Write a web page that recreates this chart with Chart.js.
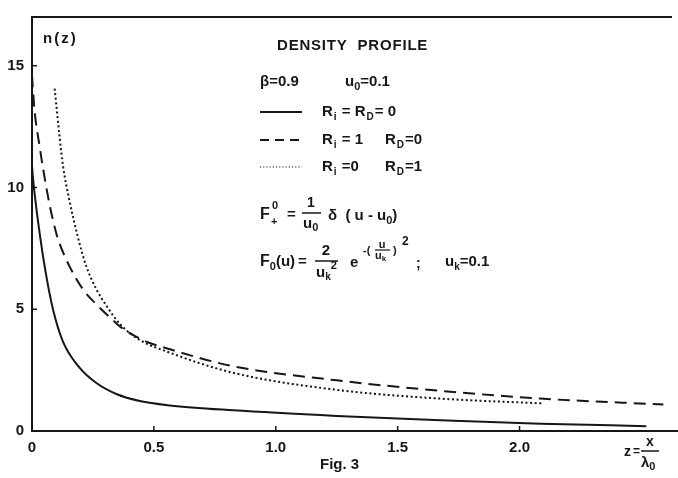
<!DOCTYPE html>
<html>
<head>
<meta charset="utf-8">
<script src="https://cdn.jsdelivr.net/npm/chart.js@4.4.1/dist/chart.umd.min.js"></script>
<style>
  body { margin: 0; background: #fff; }
  #density_chart { display: block; }
</style>
</head>
<body>
<canvas id="density_chart" width="678" height="478"></canvas>
<script>
// -- DATA -- //
// solid: Ri = RD = 0
const solid_z = [0, 0.003, 0.031, 0.058, 0.086, 0.127, 0.195, 0.264, 0.346, 0.442, 0.565, 0.825, 1.25, 1.675, 2.086, 2.52];
const solid_n = [10.9, 10.5, 8.15, 6.4, 5.0, 3.67, 2.6, 1.97, 1.52, 1.23, 1.05, 0.85, 0.62, 0.44, 0.3, 0.2];

// dashed: Ri = 1, RD = 0
const dashed_z = [0, 0.01, 0.031, 0.045, 0.072, 0.1, 0.113, 0.154, 0.209, 0.264, 0.318, 0.373, 0.469, 0.551, 0.825, 1.25, 1.675, 2.086, 2.59];
const dashed_n = [14.6, 13.2, 11.7, 10.8, 9.3, 8.1, 7.7, 6.76, 5.82, 5.2, 4.68, 4.2, 3.67, 3.4, 2.66, 2.08, 1.65, 1.33, 1.09];

// dotted: Ri = 0, RD = 1
const dotted_z = [0.093, 0.113, 0.127, 0.154, 0.188, 0.223, 0.264, 0.305, 0.36, 0.442, 0.551, 0.825, 1.25, 1.675, 2.1];
const dotted_n = [14.06, 12.1, 10.9, 9.45, 7.97, 6.76, 5.82, 5.15, 4.4, 3.74, 3.27, 2.39, 1.69, 1.33, 1.13];

const y_ticks = [0, 5, 10, 15];
const y_tick_labels = ['0', '5', '10', '15'];
const x_ticks = [0, 0.5, 1.0, 1.5, 2.0];
const x_tick_labels = ['0', '0.5', '1.0', '1.5', '2.0'];

const FONT = "'Liberation Sans', Arial, sans-serif";
const INK = '#161616';

function ToPoints(zs, ns) {
    return zs.map((z, i) => ({ x: z, y: ns[i] }));
}

// -- TEXT HELPERS -- //

function Txt(ctx, s, x, y, size, align) {
    ctx.font = 'bold ' + size + 'px ' + FONT;
    ctx.textAlign = align || 'left';
    ctx.fillText(s, x, y);
    return x + ctx.measureText(s).width;
}

function Bar(ctx, x0, x1, y) {
    ctx.beginPath();
    ctx.moveTo(x0, y);
    ctx.lineTo(x1, y);
    ctx.stroke();
}

function Sample(ctx, y, dash, width) {
    ctx.save();
    ctx.lineWidth = width;
    ctx.setLineDash(dash);
    Bar(ctx, 260, 302, y);
    ctx.restore();
}

// -- FIGURE DECORATION -- //

const figure_plugin = {
    id: 'figure_text',
    afterDraw(chart) {
        const ctx = chart.ctx;
        const area = chart.chartArea;
        const xs = chart.scales.x;
        const ys = chart.scales.y;

        ctx.save();
        ctx.fillStyle = INK;
        ctx.strokeStyle = INK;
        ctx.textBaseline = 'middle';

        // frame top line
        ctx.lineWidth = 2;
        Bar(ctx, area.left - 1, 672, area.top);

        // inward tick marks
        ctx.lineWidth = 1.5;
        y_ticks.forEach(v => {
            const py = ys.getPixelForValue(v);
            Bar(ctx, area.left, area.left + 5, py);
        });
        x_ticks.forEach(v => {
            const px = xs.getPixelForValue(v);
            ctx.beginPath();
            ctx.moveTo(px, area.bottom);
            ctx.lineTo(px, area.bottom - 5);
            ctx.stroke();
        });

        // axis titles
        ctx.letterSpacing = '2px';
        Txt(ctx, 'n(z)', 43, 39, 15);
        ctx.letterSpacing = '0.8px';
        Txt(ctx, 'DENSITY  PROFILE', 277, 46, 15);
        ctx.letterSpacing = '0px';

        // parameters
        Txt(ctx, 'β=0.9', 260, 82, 15);
        let x = Txt(ctx, 'u', 345, 82, 15);
        x = Txt(ctx, '0', x, 87, 11);
        Txt(ctx, '=0.1', x, 82, 15);

        // legend
        Sample(ctx, 112, [], 2);
        Sample(ctx, 140, [9, 6], 2);
        Sample(ctx, 167, [1.2, 2], 1.2);

        x = Txt(ctx, 'R', 322, 112, 15);
        x = Txt(ctx, 'i', x + 1, 117, 10);
        x = Txt(ctx, ' = R', x + 1, 112, 15);
        x = Txt(ctx, 'D', x + 1, 117, 10);
        Txt(ctx, '= 0', x + 1, 112, 15);

        x = Txt(ctx, 'R', 322, 140, 15);
        x = Txt(ctx, 'i', x + 1, 145, 10);
        Txt(ctx, ' = 1', x + 1, 140, 15);
        x = Txt(ctx, 'R', 385, 140, 15);
        x = Txt(ctx, 'D', x + 1, 145, 10);
        Txt(ctx, '=0', x + 1, 140, 15);

        x = Txt(ctx, 'R', 322, 167, 15);
        x = Txt(ctx, 'i', x + 1, 172, 10);
        Txt(ctx, ' =0', x + 1, 167, 15);
        x = Txt(ctx, 'R', 385, 167, 15);
        x = Txt(ctx, 'D', x + 1, 172, 10);
        Txt(ctx, '=1', x + 1, 167, 15);

        // F+0 = 1/u0 δ (u - u0)
        ctx.lineWidth = 1.5;
        Txt(ctx, 'F', 260, 215, 16);
        Txt(ctx, '0', 272, 206, 11);
        Txt(ctx, '+', 271, 222, 11);
        Txt(ctx, '=', 287, 215, 15);
        Txt(ctx, '1', 311, 203, 14, 'center');
        Bar(ctx, 302, 321, 213);
        x = Txt(ctx, 'u', 303, 224, 15);
        Txt(ctx, '0', x, 228, 11);
        x = Txt(ctx, 'δ  ( u - u', 328, 216, 15);
        x = Txt(ctx, '0', x, 221, 11);
        Txt(ctx, ')', x, 216, 15);

        // F0(u) = 2/uk^2 e^-(u/uk)^2 ; uk=0.1
        x = Txt(ctx, 'F', 260, 262, 16);
        x = Txt(ctx, '0', x, 267, 11);
        x = Txt(ctx, '(u)', x, 262, 15);
        Txt(ctx, '=', x + 3, 262, 15);
        Txt(ctx, '2', 326, 251, 15, 'center');
        Bar(ctx, 315, 338, 261);
        x = Txt(ctx, 'u', 316, 273, 15);
        x = Txt(ctx, 'k', x, 277, 10);
        Txt(ctx, '2', x, 266, 11);
        Txt(ctx, 'e', 350, 263, 15);
        Txt(ctx, '-(', 363, 251, 11);
        Txt(ctx, 'u', 382, 245, 11, 'center');
        ctx.lineWidth = 1.2;
        Bar(ctx, 375, 390, 250);
        x = Txt(ctx, 'u', 375, 256, 11);
        Txt(ctx, 'k', x, 259, 8);
        Txt(ctx, ')', 393, 251, 11);
        Txt(ctx, '2', 402, 242, 12);
        Txt(ctx, ';', 416, 264, 14);
        x = Txt(ctx, 'u', 445, 262, 15);
        x = Txt(ctx, 'k', x, 267, 10);
        Txt(ctx, '=0.1', x, 262, 15);

        // x axis caption
        Txt(ctx, 'Fig. 3', 320, 465, 15);
        Txt(ctx, 'z', 624, 452, 14);
        Txt(ctx, '=', 633, 452, 12);
        Txt(ctx, 'x', 650, 442, 14, 'center');
        ctx.lineWidth = 1.5;
        Bar(ctx, 641, 659, 451);
        x = Txt(ctx, 'λ', 641, 463, 15);
        Txt(ctx, '0', x, 467, 11);

        ctx.restore();
    }
};

// -- CHART -- //

const chart_ctx = document.getElementById('density_chart').getContext('2d');

const tick_font = { family: FONT, size: 15, weight: 'bold' };

const density_chart = new Chart(chart_ctx, {
    type: 'line',
    data: {
        datasets: [
            {
                label: 'Ri = RD = 0',
                data: ToPoints(solid_z, solid_n),
                borderColor: INK,
                borderWidth: 2,
                pointRadius: 0,
                cubicInterpolationMode: 'monotone',
                fill: false
            },
            {
                label: 'Ri = 1  RD = 0',
                data: ToPoints(dashed_z, dashed_n),
                borderColor: INK,
                borderWidth: 2,
                borderDash: [12, 7],
                pointRadius: 0,
                cubicInterpolationMode: 'monotone',
                fill: false
            },
            {
                label: 'Ri = 0  RD = 1',
                data: ToPoints(dotted_z, dotted_n),
                borderColor: INK,
                borderWidth: 2,
                borderDash: [2, 2.6],
                pointRadius: 0,
                cubicInterpolationMode: 'monotone',
                fill: false
            }
        ]
    },
    options: {
        responsive: false,
        animation: false,
        layout: { padding: { top: 11, right: 0, bottom: 0, left: 0 } },
        plugins: {
            legend: { display: false },
            tooltip: { enabled: false }
        },
        scales: {
            x: {
                type: 'linear',
                min: 0,
                max: 2.65,
                grid: { display: false, drawTicks: false },
                border: { display: true, color: INK, width: 2 },
                afterBuildTicks: axis => { axis.ticks = x_ticks.map(v => ({ value: v })); },
                afterFit: axis => { axis.height = 47; },
                ticks: {
                    padding: 8,
                    color: INK,
                    font: tick_font,
                    maxRotation: 0,
                    callback: (v, i) => x_tick_labels[i]
                }
            },
            y: {
                type: 'linear',
                min: 0,
                max: 17,
                grid: { display: false, drawTicks: false },
                border: { display: true, color: INK, width: 2 },
                afterBuildTicks: axis => { axis.ticks = y_ticks.map(v => ({ value: v })); },
                afterFit: axis => { axis.width = 32; },
                ticks: {
                    padding: 8,
                    color: INK,
                    font: tick_font,
                    callback: (v, i) => y_tick_labels[i]
                }
            }
        }
    },
    plugins: [figure_plugin]
});
</script>
</body>
</html>
